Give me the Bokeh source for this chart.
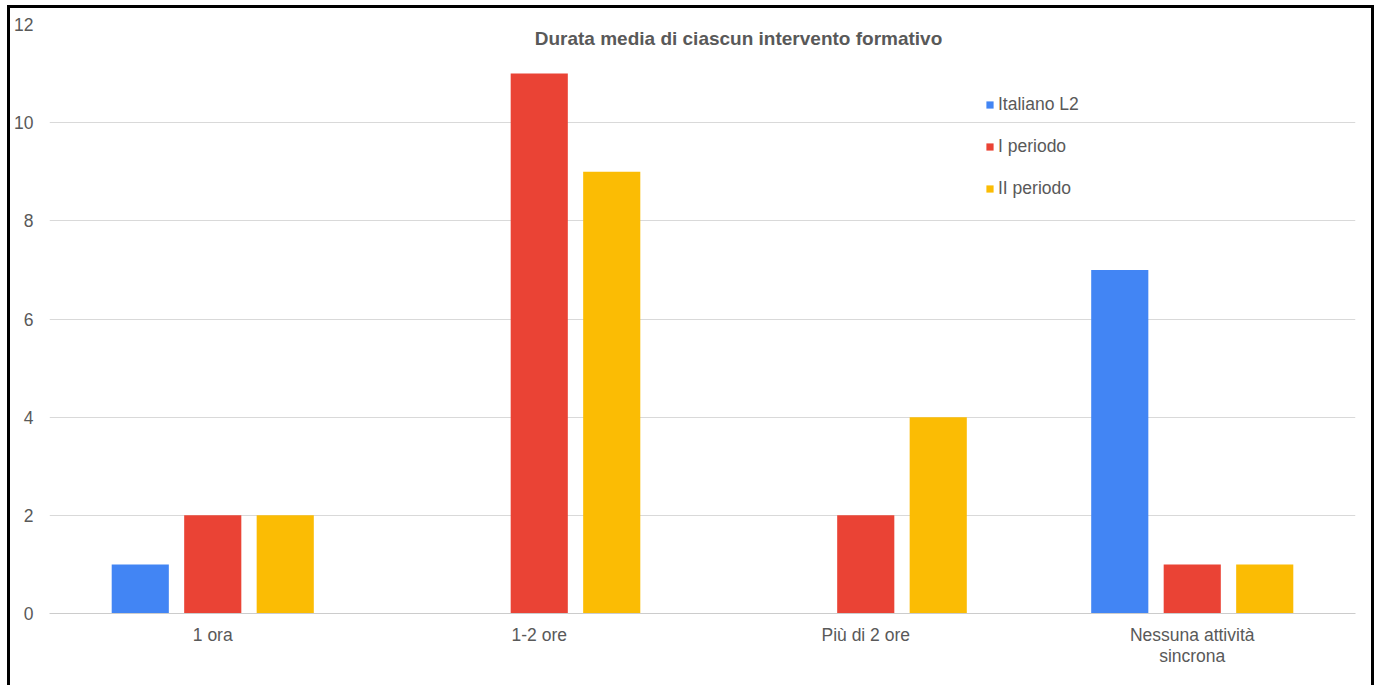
from bokeh.plotting import figure
from bokeh.models import ColumnDataSource, Range1d, FactorRange, Legend, LegendItem, Label, Column
from bokeh.transform import dodge
from bokeh.embed import file_html
from bokeh.resources import INLINE

# Average duration of each training session, by group
categories = ["1 ora", "1-2 ore", "Più di 2 ore", "Nessuna attività\nsincrona"]
italiano_l2 = [1, 0, 0, 7]
primo_periodo = [2, 11, 2, 1]
secondo_periodo = [2, 9, 4, 1]
series_names = ["Italiano L2", "I periodo", "II periodo"]
y_ticks = [0, 2, 4, 6, 8, 10, 12]

colors = ["#4285F4", "#EA4335", "#FBBC04"]
FONT = "Liberation Sans"
TEXT = "#595959"
LABEL_SIZE = "17.5px"

source = ColumnDataSource(data=dict(
    cat=categories,
    l2=italiano_l2,
    p1=primo_periodo,
    p2=secondo_periodo,
))

p = figure(
    width=1361, height=677,
    x_range=FactorRange(*categories, range_padding=0),
    y_range=Range1d(0, 12),
    output_backend="svg", toolbar_location=None,
    min_border_left=39, min_border_right=16,
    min_border_top=16, min_border_bottom=72,
)
p.outline_line_color = None
p.background_fill_color = "white"
p.border_fill_color = "white"

renderers = []
for col, off, color in zip(["l2", "p1", "p2"], [-0.222, 0.0, 0.222], colors):
    r = p.vbar(x=dodge("cat", off, range=p.x_range), top=col, width=0.175,
               source=source, fill_color=color, line_color=None)
    renderers.append(r)

# axes
p.yaxis.ticker = y_ticks
p.yaxis.axis_line_color = None
p.yaxis.major_tick_line_color = None
p.yaxis.minor_tick_line_color = None
p.yaxis.major_tick_out = 0
p.yaxis.major_tick_in = 0
p.yaxis.minor_tick_out = 0
p.yaxis.major_label_standoff = 16
p.yaxis.major_label_text_font = FONT
p.yaxis.major_label_text_font_size = LABEL_SIZE
p.yaxis.major_label_text_color = TEXT

p.xaxis.axis_line_color = "#cccccc"
p.xaxis.major_tick_line_color = None
p.xaxis.minor_tick_line_color = None
p.xaxis.major_tick_out = 0
p.xaxis.major_tick_in = 0
p.xaxis.minor_tick_out = 0
p.xaxis.major_label_standoff = 11
p.xaxis.major_label_text_font = FONT
p.xaxis.major_label_text_font_size = LABEL_SIZE
p.xaxis.major_label_text_color = TEXT
p.xaxis.major_label_text_line_height = 1.08

p.xgrid.grid_line_color = None
p.ygrid.grid_line_color = "#d9d9d9"
p.ygrid.grid_line_width = 1

# chart title (screen offsets measured from the plot frame)
title = Label(x=689, y=575, x_units="screen", y_units="screen",
              text="Durata media di ciascun intervento formativo",
              text_font=FONT, text_font_size="19px", text_font_style="bold",
              text_color=TEXT, text_align="center", text_baseline="middle")
p.add_layout(title)

legend = Legend(
    items=[LegendItem(label=n, renderers=[r]) for n, r in zip(series_names, renderers)],
    location=(936, 414),
    glyph_width=9, glyph_height=9,
    label_height=21, spacing=21, label_standoff=4,
    padding=0, margin=0,
    border_line_color=None, background_fill_alpha=0,
    label_text_font=FONT, label_text_font_size=LABEL_SIZE, label_text_color=TEXT,
)
p.add_layout(legend)

page = Column(p, styles={
    "border-left": "3px solid #000",
    "border-top": "3px solid #000",
    "border-right": "3px solid #000",
    "margin-left": "7px",
    "margin-top": "5px",
})

open("out.html", "w").write(file_html(page, INLINE))
